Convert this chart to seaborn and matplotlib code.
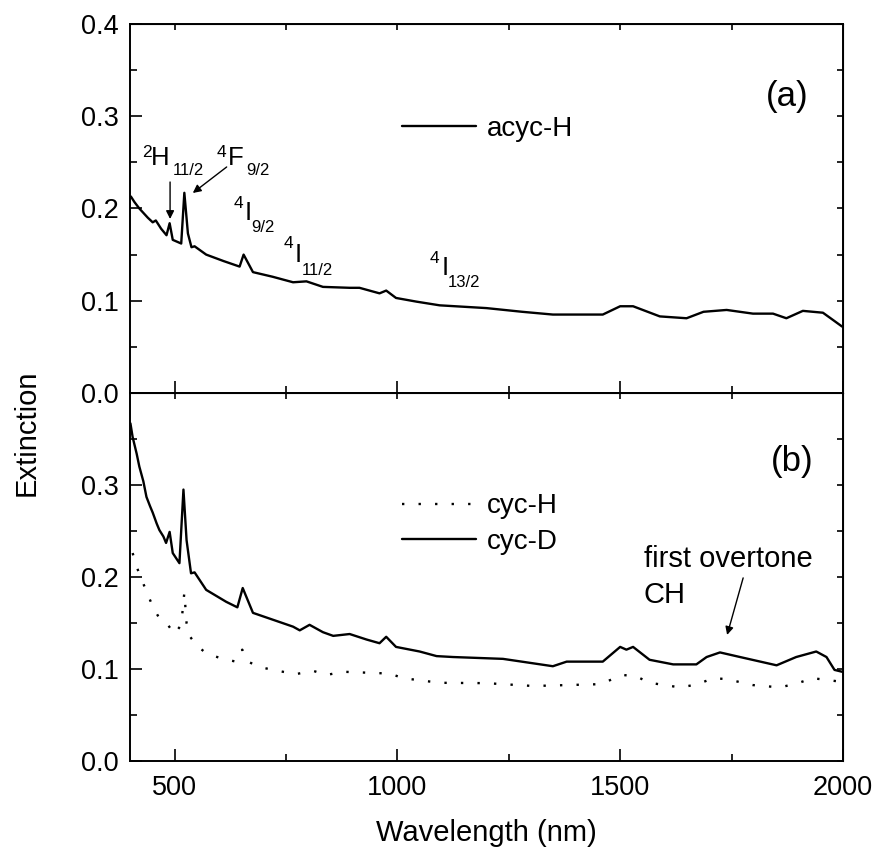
import numpy as np
import pandas as pd
import seaborn as sns
import matplotlib.pyplot as plt
from matplotlib.ticker import MultipleLocator, FixedLocator

# --- data ---
acyc_h_wl = [402, 410, 421, 440, 451, 458, 470, 482, 489, 496, 515, 522, 530, 538, 545, 571,
             610, 646, 655, 676, 720, 766, 796, 833, 893, 915, 960, 975, 997, 1043, 1095,
             1200, 1280, 1349, 1461, 1500, 1529, 1589, 1649, 1687, 1739, 1798, 1843, 1873,
             1910, 1955, 1978, 1998]
acyc_h_ext = [0.213, 0.207, 0.200, 0.190, 0.185, 0.187, 0.178, 0.171, 0.184, 0.166, 0.162, 0.217,
              0.173, 0.158, 0.159, 0.150, 0.143, 0.137, 0.150, 0.131, 0.126, 0.120, 0.121, 0.115,
              0.114, 0.114, 0.108, 0.111, 0.103, 0.099, 0.095, 0.092, 0.088, 0.085, 0.085, 0.094,
              0.094, 0.083, 0.081, 0.088, 0.090, 0.086, 0.086, 0.081, 0.089, 0.087, 0.079, 0.072]

cyc_d_wl = [401, 406, 415, 421, 430, 437, 445, 451, 460, 466, 475, 481, 489, 496, 511, 520,
            527, 537, 545, 571, 616, 641, 653, 676, 736, 766, 781, 803, 833, 856, 893, 931,
            960, 975, 997, 1050, 1088, 1125, 1237, 1349, 1380, 1461, 1500, 1514, 1529, 1566,
            1619, 1671, 1694, 1724, 1769, 1851, 1895, 1940, 1963, 1981, 1998]
cyc_d_ext = [0.367, 0.352, 0.334, 0.320, 0.304, 0.287, 0.277, 0.270, 0.258, 0.251, 0.244, 0.237,
             0.249, 0.226, 0.215, 0.295, 0.240, 0.204, 0.205, 0.186, 0.173, 0.167, 0.188, 0.161,
             0.151, 0.146, 0.142, 0.148, 0.140, 0.136, 0.138, 0.132, 0.128, 0.135, 0.124, 0.119,
             0.114, 0.113, 0.111, 0.103, 0.108, 0.108, 0.124, 0.121, 0.124, 0.110, 0.105, 0.105,
             0.113, 0.118, 0.113, 0.104, 0.113, 0.119, 0.113, 0.099, 0.097]

cyc_h_wl = [406, 415, 428, 451, 466, 485, 500, 515, 522, 527, 535, 549, 571, 608, 638, 652,
            665, 691, 743, 773, 811, 841, 878, 931, 983, 1013, 1095, 1200, 1305, 1455, 1506,
            1536, 1566, 1634, 1671, 1709, 1739, 1798, 1858, 1895, 1932, 1998]
cyc_h_ext = [0.226, 0.211, 0.195, 0.168, 0.155, 0.148, 0.138, 0.148, 0.183, 0.150, 0.135, 0.126,
             0.117, 0.111, 0.108, 0.121, 0.108, 0.102, 0.097, 0.0945, 0.098, 0.0935, 0.097, 0.096,
             0.095, 0.090, 0.085, 0.0846, 0.0815, 0.0835, 0.0935, 0.092, 0.085, 0.080, 0.083,
             0.090, 0.089, 0.0825, 0.080, 0.084, 0.090, 0.086]

df_a = pd.DataFrame({'wl': acyc_h_wl, 'ext': acyc_h_ext})
df_cd = pd.DataFrame({'wl': cyc_d_wl, 'ext': cyc_d_ext})
df_ch = pd.DataFrame({'wl': cyc_h_wl, 'ext': cyc_h_ext})

sns.set_style('ticks')
plt.rcParams['font.family'] = ['Liberation Sans', 'DejaVu Sans']
plt.rcParams.update({'text.color': 'black', 'axes.labelcolor': 'black',
                     'xtick.color': 'black', 'ytick.color': 'black',
                     'axes.edgecolor': 'black'})

fig = plt.figure(figsize=(8.77, 8.48), dpi=100)
ax1 = fig.add_axes([0.1482, 0.5366, 0.8130, 0.4351])
ax2 = fig.add_axes([0.1482, 0.1026, 0.8130, 0.4340])

sns.lineplot(data=df_a, x='wl', y='ext', ax=ax1, color='black', lw=1.7, label='acyc-H')
sns.lineplot(data=df_ch, x='wl', y='ext', ax=ax2, color='black', lw=1.7,
             linestyle=(0, (1, 6)), label='cyc-H')
sns.lineplot(data=df_cd, x='wl', y='ext', ax=ax2, color='black', lw=1.7, label='cyc-D')

for ax in (ax1, ax2):
    ax.set_xlim(400, 2000)
    ax.set_ylim(0, 0.4)
    ax.xaxis.set_major_locator(FixedLocator([500, 1000, 1500, 2000]))
    ax.xaxis.set_minor_locator(FixedLocator([750, 1250, 1750]))
    ax.yaxis.set_minor_locator(MultipleLocator(0.05))
    ax.tick_params(which='major', direction='in', length=8.5, width=1.2, labelsize=19.5)
    ax.tick_params(which='minor', direction='in', length=5, width=1.2)
    ax.tick_params(axis='x', pad=10)
    ax.tick_params(axis='y', pad=8)
    for s in ax.spines.values():
        s.set_linewidth(1.4)
    ax.set_xlabel('')
    ax.set_ylabel('')
    # short ticks on top and right, Origin style
    top = ax.secondary_xaxis('top')
    top.xaxis.set_major_locator(FixedLocator([500, 750, 1000, 1250, 1500, 1750]))
    top.tick_params(direction='in', length=4.5, width=1.2, labeltop=False)
    right = ax.secondary_yaxis('right')
    right.yaxis.set_major_locator(MultipleLocator(0.05))
    right.tick_params(direction='in', length=4.5, width=1.2, labelright=False)

ax1.yaxis.set_major_locator(MultipleLocator(0.1))
ax1.yaxis.set_major_formatter(plt.FormatStrFormatter('%.1f'))
ax1.tick_params(axis='x', labelbottom=False)
ax2.yaxis.set_major_locator(FixedLocator([0.0, 0.1, 0.2, 0.3]))
ax2.yaxis.set_major_formatter(plt.FormatStrFormatter('%.1f'))

ax1.legend(loc='center left', bbox_to_anchor=(0.3815, 0.716), frameon=False, fontsize=20,
           handlelength=2.65, handletextpad=0.4, borderpad=0, borderaxespad=0)
ax2.legend(loc='center left', bbox_to_anchor=(0.3815, 0.643), frameon=False, fontsize=20,
           handlelength=2.65, handletextpad=0.4, borderpad=0, borderaxespad=0, labelspacing=0.35)

ax1.text(1874, 0.321, '(a)', fontsize=25, ha='center', va='center')
ax2.text(1885, 0.325, '(b)', fontsize=25, ha='center', va='center')


def term(ax, x_sup, x_main, x_sub, y_sup, y_main, y_sub, sup, main, sub):
    ax.text(x_sup, y_sup, sup, fontsize=12.5, va='baseline')
    ax.text(x_main, y_main, main, fontsize=18.5, va='baseline')
    ax.text(x_sub, y_sub, sub, fontsize=12, va='baseline')


term(ax1, 427, 446, 496, 0.256, 0.247, 0.236, '2', 'H', '11/2')
term(ax1, 594, 619, 662, 0.256, 0.247, 0.236, '4', 'F', '9/2')
term(ax1, 632, 658, 673, 0.2005, 0.1875, 0.1749, '4', 'I', '9/2')
term(ax1, 744, 770, 785, 0.157, 0.1423, 0.128, '4', 'I', '11/2')
term(ax1, 1072, 1099, 1114, 0.141, 0.128, 0.115, '4', 'I', '13/2')

arrow = dict(arrowstyle='-|>', color='black', lw=1, mutation_scale=12, shrinkA=0, shrinkB=0)
ax1.annotate('', xy=(490, 0.1886), xytext=(490, 0.2287), arrowprops=arrow)
ax1.annotate('', xy=(541, 0.2168), xytext=(617, 0.245), arrowprops=arrow)

ax2.text(1553, 0.211, 'first overtone', fontsize=21, va='baseline')
ax2.text(1553, 0.1717, 'CH', fontsize=21, va='baseline')
ax2.annotate('', xy=(1740, 0.137), xytext=(1776, 0.199), arrowprops=arrow)

ax2.set_xlabel('Wavelength (nm)', fontsize=21, labelpad=13)
fig.text(27 / 877, 1 - 433 / 848, 'Extinction', fontsize=21, rotation=90,
         ha='center', va='center')

fig.savefig('out.png', dpi=100)
